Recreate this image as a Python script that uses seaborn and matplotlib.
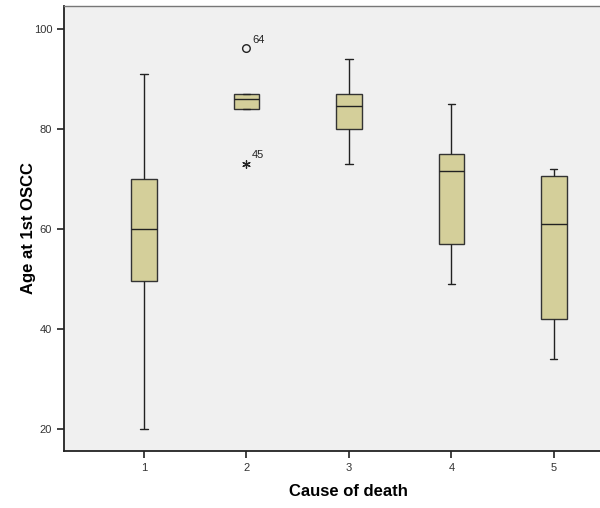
import numpy as np
import pandas as pd
import matplotlib
matplotlib.use("Agg")
import matplotlib.pyplot as plt
import seaborn as sns

sns.set_theme(style="white")
plt.rcParams["font.family"] = ["Liberation Sans", "DejaVu Sans"]

# Five-number summaries (low whisker, Q1, median, Q3, high whisker)
causes = ["1", "2", "3", "4", "5"]
low = [20, 84, 73, 49, 34]
q1 = [49.5, 84, 80, 57, 42]
median = [60, 86, 84.5, 71.5, 61]
q3 = [70, 87, 87, 75, 70.5]
high = [91, 87, 94, 85, 72]

# outliers for cause 2
out_cause = ["2", "2"]
out_age = [96, 73]
out_case = ["64", "45"]
out_marker = ["o", "*"]

# build a long table with one value per summary point, so the quartiles come out exact
rows = []
for c, a, b, m, d, e in zip(causes, low, q1, median, q3, high):
    for v in (a, b, m, d, e):
        rows.append({"cause": c, "age": v})
df = pd.DataFrame(rows)

fig = plt.figure(figsize=(6, 5.08), dpi=100)
ax = fig.add_axes([0.1067, 0.1122, 0.8933, 0.876])
ax.set_facecolor("#f0f0f0")

sns.boxplot(
    data=df, x="cause", y="age", order=causes, ax=ax,
    color="#d4cf9a", saturation=1, width=0.25, whis=1.5,
    showfliers=False, linecolor="#333333", linewidth=1.0,
    capwidths=0.07,
    whiskerprops={"color": "#222222"},
    capprops={"color": "#222222"},
    medianprops={"color": "#222222"},
)

pos = {c: i for i, c in enumerate(causes)}
for c, v, lab, mk in zip(out_cause, out_age, out_case, out_marker):
    x = pos[c]
    if mk == "o":
        ax.scatter(x, v, marker="o", s=30, facecolors="none", edgecolors="#222222", linewidths=1.0, zorder=5)
    else:
        ax.scatter(x, v, marker=(6, 2, 0), s=30, color="#222222", linewidths=0.9, zorder=5)
    ax.annotate(lab, (x, v), xytext=(4, 4), textcoords="offset points",
                fontsize=8, color="#222222")

ax.set_xlim(-0.78, 4.45)
ax.set_ylim(15.6, 104.5)
ax.set_yticks([20, 40, 60, 80, 100])
ax.set_xlabel("Cause of death", fontsize=12, fontweight="bold", color="black")
ax.set_ylabel("Age at 1st OSCC", fontsize=12, fontweight="bold", color="black", labelpad=-2)
ax.xaxis.set_label_coords(0.53, -0.075)
ax.tick_params(axis="both", direction="out", length=5, width=1.2, color="#222222",
               labelsize=8, labelcolor="#333333", left=True, bottom=True)

for s in ["left", "bottom"]:
    ax.spines[s].set_color("#222222")
    ax.spines[s].set_linewidth(1.3)
ax.spines["top"].set_color("#777777")
ax.spines["top"].set_linewidth(1.0)
ax.spines["right"].set_visible(False)

fig.savefig("out.png", dpi=100, facecolor="white")
